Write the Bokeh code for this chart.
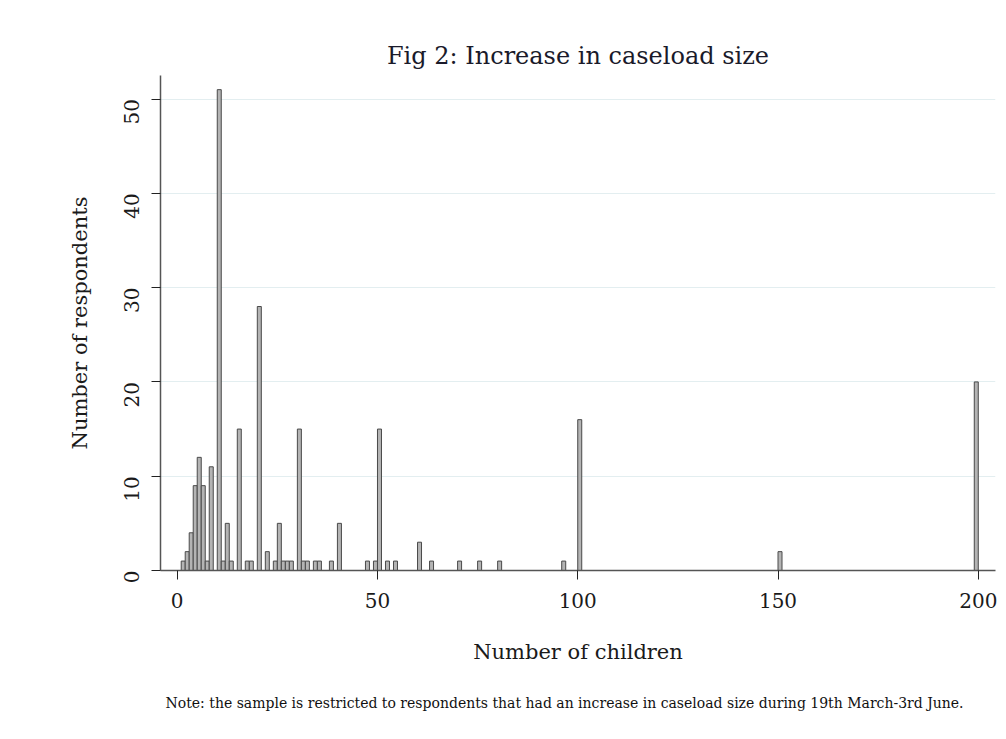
import math
from bokeh.plotting import figure
from bokeh.models import ColumnDataSource, Title, FixedTicker, Range1d
from bokeh.embed import file_html
from bokeh.resources import INLINE

# Histogram bins (width 1, lower edge) and number of respondents in each
bin_start = [1, 2, 3, 4, 5, 6, 7, 8, 10, 11, 12, 13, 15, 17, 18, 20, 22, 24, 25, 26,
             27, 28, 30, 31, 32, 34, 35, 38, 40, 47, 49, 50, 52, 54, 60, 63, 70, 75,
             80, 96, 100, 150, 199]
counts = [1, 2, 4, 9, 12, 9, 1, 11, 51, 1, 5, 1, 15, 1, 1, 28, 2, 1, 5, 1,
          1, 1, 15, 1, 1, 1, 1, 1, 5, 1, 1, 15, 1, 1, 3, 1, 1, 1,
          1, 1, 16, 2, 20]
bin_width = 1
x_ticks = [0, 50, 100, 150, 200]
y_ticks = [0, 10, 20, 30, 40, 50]

title_text = "Fig 2: Increase in caseload size"
x_title = "Number of children"
y_title = "Number of respondents"
note_text = ("Note: the sample is restricted to respondents that had an increase in "
             "caseload size during 19th March-3rd June.")

SERIF = "DejaVu Serif"

src = ColumnDataSource(dict(
    left=bin_start,
    right=[b + bin_width for b in bin_start],
    top=counts,
    bottom=[0] * len(counts),
))

p = figure(width=1006, height=739, output_backend="svg", toolbar_location=None,
           x_range=Range1d(-4.17, 204.3), y_range=Range1d(0, 52.5),
           min_border_left=160, min_border_right=11, min_border_top=75,
           min_border_bottom=169)
p.background_fill_color = "white"
p.border_fill_color = "white"
p.outline_line_color = None

p.title.text = title_text
p.title.align = "center"
p.title.text_font = SERIF
p.title.text_font_size = "24px"
p.title.text_font_style = "normal"
p.title.text_color = "#1a1a2a"
p.title.standoff = 11

p.quad(left="left", right="right", top="top", bottom="bottom", source=src,
       fill_color="#b4b4b4", line_color="#4a4a4a", line_width=1)

# grid
p.xgrid.grid_line_color = None
p.ygrid.ticker = FixedTicker(ticks=[10, 20, 30, 40, 50])
p.ygrid.grid_line_color = "#e3eef0"
p.ygrid.grid_line_width = 1

# axes
for ax in (p.xaxis[0], p.yaxis[0]):
    ax.axis_line_color = "#555555"
    ax.axis_line_width = 1.5
    ax.major_tick_line_color = "#222222"
    ax.major_tick_in = 0
    ax.major_tick_out = 9
    ax.minor_tick_line_color = None
    ax.major_label_text_font = SERIF
    ax.major_label_text_font_size = "20px"
    ax.major_label_text_color = "#1a1a1a"
    ax.axis_label_text_font = SERIF
    ax.axis_label_text_font_size = "21px"
    ax.axis_label_text_font_style = "normal"
    ax.axis_label_text_color = "#1a1a1a"

p.xaxis.ticker = FixedTicker(ticks=x_ticks)
p.yaxis.ticker = FixedTicker(ticks=y_ticks)
p.xaxis.axis_label = x_title
p.yaxis.axis_label = y_title
p.yaxis.major_label_orientation = math.pi / 2
p.xaxis.major_label_standoff = 13
p.yaxis.major_label_standoff = 20
p.xaxis.axis_label_standoff = 29
p.yaxis.axis_label_standoff = 22

note = Title(text=note_text, align="left", offset=5, text_font=SERIF,
             text_font_size="14px", text_font_style="normal", text_color="#111111",
             standoff=52)
p.add_layout(note, "below")

open("out.html", "w").write(file_html(p, INLINE))
